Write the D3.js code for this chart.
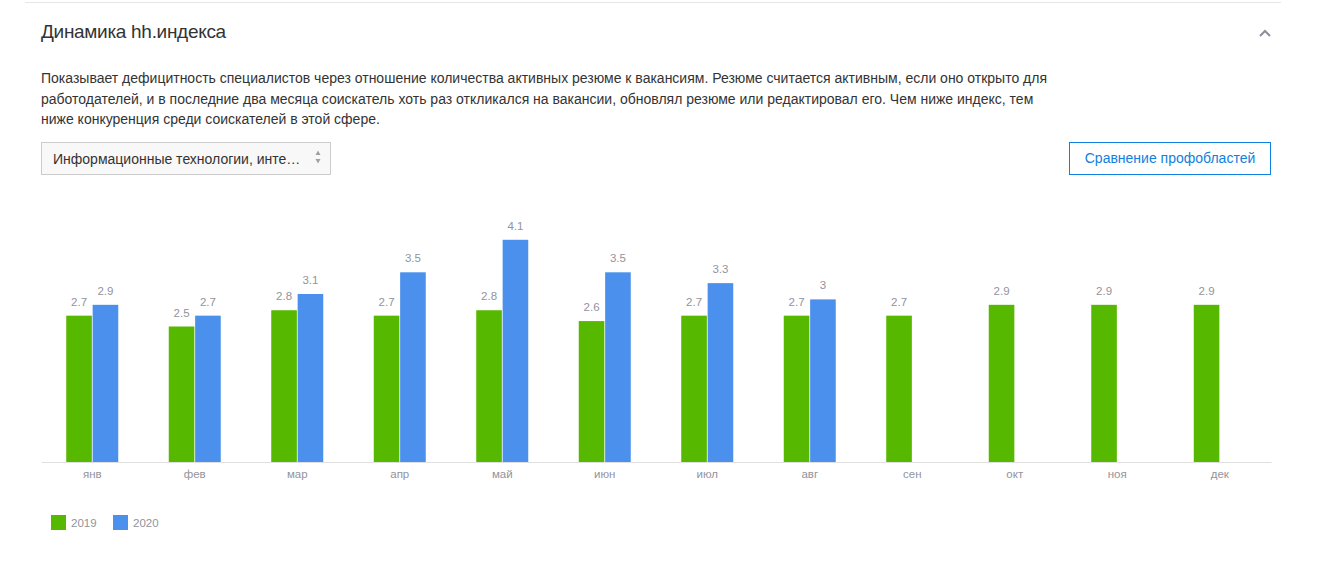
<!DOCTYPE html>
<html><head><meta charset="utf-8">
<script src="https://cdn.jsdelivr.net/npm/d3@7"></script>
<style>
html,body{margin:0;padding:0;background:#fff;}
body{width:1318px;height:579px;position:relative;overflow:hidden;font-family:"Liberation Sans",Arial,sans-serif;}
#topline{position:absolute;left:25px;top:2px;width:1256px;height:1px;background:#e6e6e6;}
#title{position:absolute;left:41px;top:21px;font-size:19px;color:#333;font-family:"Liberation Sans",Arial,sans-serif;letter-spacing:-0.3px;}
#desc{position:absolute;left:41px;top:68px;width:1025px;font-size:14px;line-height:20.5px;color:#333;}
#sel{position:absolute;left:41px;top:142px;width:288px;height:31px;border:1px solid #ccc;background:#f8f8f8;box-sizing:content-box;}
#sel span{position:absolute;left:11px;top:8px;font-size:14px;color:#333;}
#btn{position:absolute;left:1069px;top:142px;width:200px;height:31px;border:1px solid #0f7fe0;color:#0f7fe0;font-size:14px;text-align:center;line-height:31px;}
svg{position:absolute;left:0;top:0;z-index:5;}
</style></head><body>
<div id="topline"></div>
<div id="title">Динамика hh.индекса</div>
<div id="desc">Показывает дефицитность специалистов через отношение количества активных резюме к вакансиям. Резюме считается активным, если оно открыто для работодателей, и в последние два месяца соискатель хоть раз откликался на вакансии, обновлял резюме или редактировал его. Чем ниже индекс, тем ниже конкуренция среди соискателей в этой сфере.</div>
<div id="sel"><span>Информационные технологии, инте…</span></div>
<div id="btn">Сравнение профобластей</div>
<svg id="chevsvg" width="1318" height="579"></svg>
<script>
const months = ["янв","фев","мар","апр","май","июн","июл","авг","сен","окт","ноя","дек"];
const series = ["2019","2020"];
const values2019 = [2.7,2.5,2.8,2.7,2.8,2.6,2.7,2.7,2.7,2.9,2.9,2.9];
const values2020 = [2.9,2.7,3.1,3.5,4.1,3.5,3.3,3.0,null,null,null,null];
const colors = ["#57b800","#4a90ec"];
const labelColor = "#93939c";

const svg = d3.select("#chevsvg");
// chevron
svg.append("path").attr("d","M1260,36 L1265,31 L1270,36").attr("fill","none").attr("stroke","#8a8f99").attr("stroke-width",2);
// select arrows
svg.append("path").attr("d","M315.5,155 L318,150.5 L320.5,155 Z").attr("fill","#a0a0a0");
svg.append("path").attr("d","M315.5,159 L318,163.5 L320.5,159 Z").attr("fill","#a0a0a0");

const x0 = d3.scaleBand().domain(months).range([41,1271]).padding(0);
const x1 = d3.scaleBand().domain(series).range([-26,26]).paddingInner(0.03);
const y = d3.scaleLinear().domain([0,4.5]).range([462,462-4.5*54.2]);

const data = months.map((m,i)=>({m, vals:[values2019[i],values2020[i]]}));
const g = svg.append("g");
data.forEach(d=>{
  const cx = x0(d.m)+x0.bandwidth()/2;
  d.vals.forEach((v,j)=>{
    if(v==null) return;
    const s = series[j];
    g.append("rect").attr("x",cx+x1(s)).attr("y",y(v)).attr("width",x1.bandwidth()).attr("height",y(0)-y(v)).attr("fill",colors[j]);
    g.append("text").attr("x",cx+x1(s)+x1.bandwidth()/2).attr("y",y(v)-10).attr("text-anchor","middle")
      .attr("font-size",11.5).attr("fill",labelColor).attr("font-family","Liberation Sans, Arial, sans-serif").text(String(v));
  });
});
// axis
const ax = svg.append("g").attr("transform","translate(0,462)").call(d3.axisBottom(x0).tickSize(0).tickPadding(8));
ax.select(".domain").attr("stroke","#e0e0e0");
ax.selectAll("text").attr("font-size",11.5).attr("fill",labelColor).attr("font-family","Liberation Sans, Arial, sans-serif");

// legend
const lg = svg.append("g");
series.forEach((s,i)=>{
  const lx = 51 + i*62;
  lg.append("rect").attr("x",lx).attr("y",515).attr("width",15).attr("height",15).attr("fill",colors[i]);
  lg.append("text").attr("x",lx+20).attr("y",527).attr("font-size",11.5).attr("fill",labelColor).attr("font-family","Liberation Sans, Arial, sans-serif").text(s);
});
</script>
</body></html>
